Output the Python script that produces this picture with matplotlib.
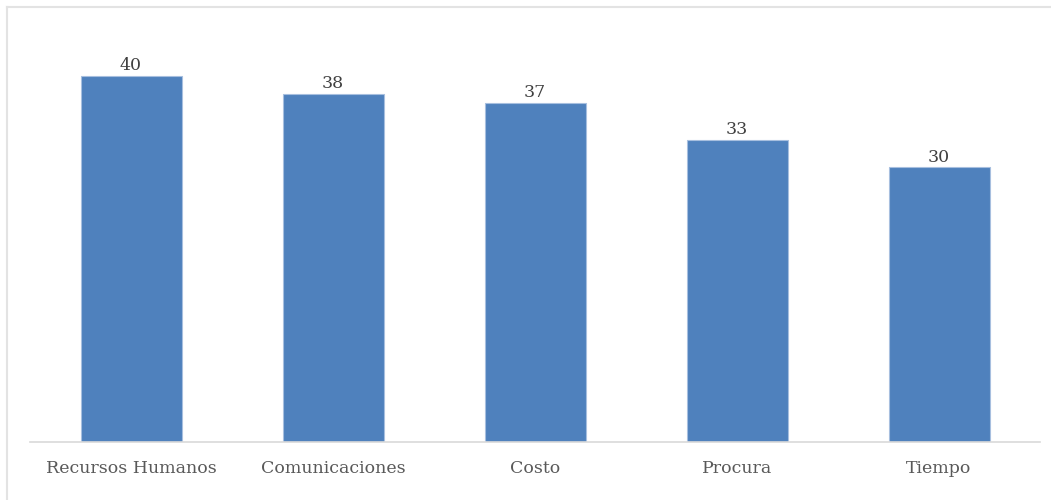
import matplotlib.pyplot as plt
from matplotlib.lines import Line2D

categorias = ['Recursos Humanos', 'Comunicaciones', 'Costo', 'Procura', 'Tiempo']
valores = [40, 38, 37, 33, 30]

plt.rcParams['font.family'] = ['DejaVu Serif']

fig = plt.figure(figsize=(10.51, 5), dpi=100)
ax = fig.add_axes([30 / 1051, 1 - 442 / 500, 1010 / 1051, 412 / 500])

barras = ax.bar(range(len(categorias)), valores, width=0.5,
                color='#4f81bd', edgecolor='#a7bfdf', linewidth=0.8)

for b, v in zip(barras, valores):
    ax.text(b.get_x() + b.get_width() / 2, v + 0.2, str(v),
            ha='center', va='bottom', fontsize=12.5, color='#404040')

ax.set_xlim(-0.5, len(categorias) - 0.5)
ax.set_ylim(0, 45)
ax.set_xticks(range(len(categorias)))
ax.set_xticklabels(categorias, fontsize=12.5, color='#595959')
ax.tick_params(axis='x', length=0, pad=13)
ax.set_yticks([])
for lado in ['top', 'right', 'left']:
    ax.spines[lado].set_visible(False)
ax.spines['bottom'].set_color('#d9d9d9')
ax.spines['bottom'].set_linewidth(1.2)

# marco exterior del gráfico
fig.add_artist(Line2D([7 / 1051, 1], [1 - 7 / 500, 1 - 7 / 500], color='#e3e3e3', lw=1.5))
fig.add_artist(Line2D([7 / 1051, 7 / 1051], [0, 1 - 7 / 500], color='#e3e3e3', lw=1.5))

plt.savefig('out.png', dpi=100)
